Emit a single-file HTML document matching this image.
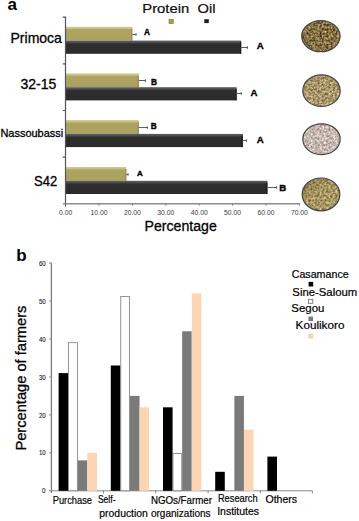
<!DOCTYPE html>
<html><head><meta charset="utf-8">
<style>
html,body{margin:0;padding:0;background:#fff;width:359px;height:521px;overflow:hidden}
svg{display:block}
text{font-family:"Liberation Sans",sans-serif}
.th{stroke:#000;stroke-width:0.3px}
.th2{stroke:#000;stroke-width:0.2px}
</style></head>
<body>
<svg width="359" height="521" viewBox="0 0 359 521">
<!-- ===== panel a ===== -->
<text x="7.6" y="9.8" font-size="17" font-weight="bold" fill="#000">a</text>
<!-- legend -->
<text x="142.31" y="13" font-size="13.5" fill="#111" textLength="46.89" lengthAdjust="spacingAndGlyphs" class="th2">Protein</text>
<text x="197.61" y="13" font-size="13.5" fill="#111" textLength="17.99" lengthAdjust="spacingAndGlyphs" class="th2">Oil</text>
<rect x="169" y="19.3" width="4.3" height="4.3" fill="#a89f4c" stroke="#7c7432" stroke-width="0.6"/>
<rect x="204.3" y="19.2" width="4.5" height="3.9" fill="#1e1e1e"/>
<!-- category labels -->
<text x="10.50" y="43" font-size="15" fill="#000" textLength="51.40" lengthAdjust="spacingAndGlyphs" class="th">Primoca</text>
<text x="20.40" y="89" font-size="14" fill="#000" textLength="35.90" lengthAdjust="spacingAndGlyphs" class="th">32-15</text>
<text x="0.41" y="136.6" font-size="11.2" fill="#000" textLength="62.80" lengthAdjust="spacingAndGlyphs" class="th">Nassoubassi</text>
<text x="34.03" y="185.9" font-size="15" fill="#000" textLength="23.17" lengthAdjust="spacingAndGlyphs" class="th">S42</text>
<!-- bars: protein -->
<defs>
<linearGradient id="og" x1="0" y1="0" x2="0" y2="1">
<stop offset="0" stop-color="#5e5e62"/><stop offset="0.16" stop-color="#4a4a4e"/><stop offset="0.24" stop-color="#2e2e2e"/><stop offset="1" stop-color="#2b2b2b"/>
</linearGradient>
<linearGradient id="pg" x1="0" y1="0" x2="0" y2="1">
<stop offset="0" stop-color="#d2ca94"/><stop offset="0.15" stop-color="#c4bb80"/><stop offset="0.2" stop-color="#aea462"/><stop offset="0.92" stop-color="#aba160"/><stop offset="1" stop-color="#a0975a"/>
</linearGradient>
</defs>
<rect x="66" y="26.8" width="66.3" height="13.8" fill="url(#pg)"/>
<rect x="131.2" y="28.8" width="1.1" height="11.8" fill="#958d55"/>
<rect x="66" y="73.4" width="72.8" height="13.8" fill="url(#pg)"/>
<rect x="137.7" y="75.4" width="1.1" height="11.8" fill="#958d55"/>
<rect x="66" y="120.1" width="72.8" height="13.8" fill="url(#pg)"/>
<rect x="137.7" y="122.1" width="1.1" height="11.8" fill="#958d55"/>
<rect x="66" y="167.0" width="60.3" height="13.8" fill="url(#pg)"/>
<rect x="125.2" y="169.0" width="1.1" height="11.8" fill="#958d55"/>
<rect x="66" y="40.6" width="175.2" height="13.2" fill="url(#og)"/>
<rect x="240.1" y="42.1" width="1.1" height="11.7" fill="#1c1c1c"/>
<rect x="66" y="87.2" width="170.6" height="13.2" fill="url(#og)"/>
<rect x="235.5" y="88.7" width="1.1" height="11.7" fill="#1c1c1c"/>
<rect x="66" y="133.9" width="176.8" height="13.2" fill="url(#og)"/>
<rect x="241.7" y="135.4" width="1.1" height="11.7" fill="#1c1c1c"/>
<rect x="66" y="180.8" width="201.4" height="13.2" fill="url(#og)"/>
<rect x="266.3" y="182.3" width="1.1" height="11.7" fill="#1c1c1c"/>
<g fill="#5c5c5c">
<rect x="132.3" y="34" width="4.1" height="1"/><rect x="135.5" y="33.2" width="1" height="2.6"/>
<rect x="138.8" y="80" width="7.1" height="1"/><rect x="145.0" y="79.2" width="1" height="2.6"/>
<rect x="138.8" y="127" width="8.9" height="1"/><rect x="146.8" y="126.2" width="1" height="2.6"/>
<rect x="126.3" y="174" width="2.1" height="1"/><rect x="127.5" y="173.2" width="1" height="2.6"/>
<rect x="241.2" y="47" width="6.7" height="1"/><rect x="247.0" y="46.2" width="1" height="2.6"/>
<rect x="236.6" y="93" width="5.0" height="1"/><rect x="240.7" y="92.2" width="1" height="2.6"/>
<rect x="242.8" y="140" width="4.0" height="1"/><rect x="245.9" y="139.2" width="1" height="2.6"/>
<rect x="267.4" y="187" width="9.6" height="1"/><rect x="276.1" y="186.2" width="1" height="2.6"/>
</g>
<g font-weight="bold" fill="#000" stroke="#000" stroke-width="0.35">
<text x="144" y="34.6" font-size="8.3">A</text>
<text x="256.7" y="49.3" font-size="9.7">A</text>
<text x="151.1" y="85" font-size="8.3">B</text>
<text x="250.6" y="96.3" font-size="9.7">A</text>
<text x="150.7" y="129.2" font-size="8.3">B</text>
<text x="256.7" y="143.4" font-size="9.7">A</text>
<text x="137.1" y="176.3" font-size="8.0">A</text>
<text x="279.2" y="190.6" font-size="9.7">B</text>
</g>
<!-- axes -->
<g stroke="#555" stroke-width="1.2" fill="none">
<path d="M65.5 16.6V206.4"/>
<path d="M62.8 17.2H65.5M62.8 63.8H65.5M62.8 110.5H65.5M62.8 157.2H65.5"/>
</g>
<g stroke="#8c8c8c" stroke-width="1.5" fill="none">
<path d="M63 203.8H300"/>
</g>
<g stroke="#888" stroke-width="1" fill="none">
<path d="M99 204V205.8M132.4 204V205.8M165.8 204V205.8M199.2 204V205.8M232.6 204V205.8M266 204V205.8M299.4 204V205.8"/>
</g>
<g font-size="6.8" fill="#3a3a3a" text-anchor="middle">
<text x="65.6" y="215.1">0.00</text>
<text x="99" y="215.1">10.00</text>
<text x="132.4" y="215.1">20.00</text>
<text x="165.8" y="215.1">30.00</text>
<text x="199.2" y="215.1">40.00</text>
<text x="232.6" y="215.1">50.00</text>
<text x="266" y="215.1">60.00</text>
<text x="299.4" y="215.1">70.00</text>
</g>
<text x="144.59" y="231.3" font-size="15.4" fill="#000" textLength="72.21" lengthAdjust="spacingAndGlyphs" class="th">Percentage</text>
<!-- seed photos -->
<defs>
<filter id="t1" x="0" y="0" width="1" height="1" color-interpolation-filters="sRGB">
<feTurbulence type="fractalNoise" baseFrequency="0.45" numOctaves="3" seed="3" result="n"/>
<feColorMatrix in="n" type="matrix" values="0.95 0 0 0 0.043  0.9 0 0 0 -0.011  0.75 0 0 0 -0.100  0 0 0 0 1" result="c"/>
<feGaussianBlur in="c" stdDeviation="0.3" result="cb"/>
<feComposite in="cb" in2="SourceGraphic" operator="in"/>
</filter>
<filter id="t2" x="0" y="0" width="1" height="1" color-interpolation-filters="sRGB">
<feTurbulence type="fractalNoise" baseFrequency="0.45" numOctaves="3" seed="5" result="n"/>
<feColorMatrix in="n" type="matrix" values="0.8 0 0 0 0.259  0.78 0 0 0 0.198  0.68 0 0 0 0.076  0 0 0 0 1" result="c"/>
<feGaussianBlur in="c" stdDeviation="0.3" result="cb"/>
<feComposite in="cb" in2="SourceGraphic" operator="in"/>
</filter>
<filter id="t3" x="0" y="0" width="1" height="1" color-interpolation-filters="sRGB">
<feTurbulence type="fractalNoise" baseFrequency="0.45" numOctaves="3" seed="7" result="n"/>
<feColorMatrix in="n" type="matrix" values="0.65 0 0 0 0.451  0.7 0 0 0 0.375  0.75 0 0 0 0.323  0 0 0 0 1" result="c"/>
<feGaussianBlur in="c" stdDeviation="0.3" result="cb"/>
<feComposite in="cb" in2="SourceGraphic" operator="in"/>
</filter>
<filter id="t4" x="0" y="0" width="1" height="1" color-interpolation-filters="sRGB">
<feTurbulence type="fractalNoise" baseFrequency="0.45" numOctaves="3" seed="9" result="n"/>
<feColorMatrix in="n" type="matrix" values="0.7 0 0 0 0.301  0.7 0 0 0 0.242  0.6 0 0 0 0.092  0 0 0 0 1" result="c"/>
<feGaussianBlur in="c" stdDeviation="0.3" result="cb"/>
<feComposite in="cb" in2="SourceGraphic" operator="in"/>
</filter>
<linearGradient id="g4" x1="0" y1="0" x2="1" y2="1">
<stop offset="0" stop-color="#5a4620" stop-opacity="0.35"/><stop offset="0.5" stop-color="#5a4620" stop-opacity="0"/>
</linearGradient>
</defs>
<ellipse cx="320.9" cy="36.2" rx="19.2" ry="15.5" fill="#000" filter="url(#t1)"/>
<ellipse cx="321.5" cy="90.7" rx="18.7" ry="15.8" fill="#000" filter="url(#t2)"/>
<ellipse cx="321.5" cy="139.2" rx="18.7" ry="15.4" fill="#000" filter="url(#t3)"/>
<ellipse cx="321" cy="194.4" rx="18.8" ry="16.4" fill="#000" filter="url(#t4)"/>
<ellipse cx="321" cy="194.4" rx="18.8" ry="16.4" fill="url(#g4)"/>
<g stroke="#444" stroke-width="1.2" fill="none">
<ellipse cx="320.9" cy="36.2" rx="19.2" ry="15.5"/>
<ellipse cx="321.5" cy="90.7" rx="18.7" ry="15.8"/>
<ellipse cx="321.5" cy="139.2" rx="18.7" ry="15.4"/>
<ellipse cx="321" cy="194.4" rx="18.8" ry="16.4"/>
</g>

<!-- ===== panel b ===== -->
<text x="16.3" y="261" font-size="17" font-weight="bold" fill="#000">b</text>
<!-- y axis -->
<g stroke="#7c7c7c" stroke-width="1.3" fill="none">
<path d="M51.4 262.7V493"/>
</g>
<g stroke="#888" stroke-width="1" fill="none">
<path d="M49 263H51.3M49 301H51.3M49 339H51.3M49 377H51.3M49 414.9H51.3M49 452.8H51.3M49 490.8H51.3"/>
<path d="M51.3 490.8H312.4"/>
<path d="M103.5 490.8V493.5M155.8 490.8V493.5M208.1 490.8V493.5M260.4 490.8V493.5M312.4 490.8V493.5"/>
</g>
<g font-size="7" fill="#1a1a1a" stroke="#1a1a1a" stroke-width="0.12">
<text x="38.9" y="265.6" textLength="6.7" lengthAdjust="spacingAndGlyphs">60</text>
<text x="38.9" y="303.6" textLength="6.7" lengthAdjust="spacingAndGlyphs">50</text>
<text x="38.9" y="341.6" textLength="6.7" lengthAdjust="spacingAndGlyphs">40</text>
<text x="38.9" y="379.6" textLength="6.7" lengthAdjust="spacingAndGlyphs">30</text>
<text x="38.9" y="417.5" textLength="6.7" lengthAdjust="spacingAndGlyphs">20</text>
<text x="38.9" y="455.4" textLength="6.7" lengthAdjust="spacingAndGlyphs">10</text>
<text x="42.1" y="493.4" textLength="3.5" lengthAdjust="spacingAndGlyphs">0</text>
</g>
<text transform="translate(25.5 450.6) rotate(-90)" font-size="15" fill="#000" textLength="145" lengthAdjust="spacingAndGlyphs" class="th">Percentage of farmers</text>
<!-- bars b -->
<g>
<rect x="58.60" y="373.1" width="9.58" height="117.7" fill="#000"/>
<rect x="68.58" y="342.7" width="8.78" height="148.1" fill="#fff" stroke="#7a7a7a" stroke-width="0.8"/>
<rect x="77.76" y="460.4" width="9.58" height="30.4" fill="#7a7a7a"/>
<rect x="87.34" y="452.8" width="9.58" height="38.0" fill="#fcd5b5"/>
<rect x="110.80" y="365.5" width="9.58" height="125.3" fill="#000"/>
<rect x="120.78" y="296.4" width="8.78" height="194.4" fill="#fff" stroke="#7a7a7a" stroke-width="0.8"/>
<rect x="129.96" y="395.9" width="9.58" height="94.9" fill="#7a7a7a"/>
<rect x="139.54" y="407.3" width="9.58" height="83.5" fill="#fcd5b5"/>
<rect x="163.00" y="407.3" width="9.58" height="83.5" fill="#000"/>
<rect x="172.98" y="453.6" width="8.78" height="37.2" fill="#fff" stroke="#7a7a7a" stroke-width="0.8"/>
<rect x="182.16" y="331.3" width="9.58" height="159.5" fill="#7a7a7a"/>
<rect x="191.74" y="293.4" width="9.58" height="197.4" fill="#fcd5b5"/>
<rect x="215.20" y="471.8" width="9.58" height="19.0" fill="#000"/>
<rect x="234.36" y="395.9" width="9.58" height="94.9" fill="#7a7a7a"/>
<rect x="243.94" y="429.7" width="9.58" height="61.1" fill="#fcd5b5"/>
<rect x="267.40" y="456.6" width="9.58" height="34.2" fill="#000"/>
</g>
<!-- legend b -->
<g font-size="11" fill="#000">
<text x="291.70" y="278.4" textLength="57.00" lengthAdjust="spacingAndGlyphs" class="th2">Casamance</text>
<text x="292.39" y="295.5" textLength="64.80" lengthAdjust="spacingAndGlyphs" class="th2">Sine-Saloum</text>
<text x="291.37" y="312" textLength="33.03" lengthAdjust="spacingAndGlyphs" class="th2">Segou</text>
<text x="295.60" y="328.9" textLength="48.80" lengthAdjust="spacingAndGlyphs" class="th2">Koulikoro</text>
</g>
<rect x="308.6" y="281.9" width="4.6" height="4.6" fill="#000"/>
<rect x="308.5" y="299.4" width="4.3" height="3.9" fill="#fff" stroke="#777" stroke-width="0.9"/>
<rect x="308.4" y="316.6" width="4.6" height="4.5" fill="#7a7a7a"/>
<rect x="308.4" y="334" width="4.6" height="4.6" fill="#fcd0ad"/>
<!-- x labels b -->
<g font-size="11" fill="#000">
<text x="52.69" y="503.6" textLength="39.32" lengthAdjust="spacingAndGlyphs" class="th2">Purchase</text>
<text x="97.91" y="502.6" textLength="17.60" lengthAdjust="spacingAndGlyphs" class="th2">Self-</text>
<text x="99.32" y="516.5" textLength="48.58" lengthAdjust="spacingAndGlyphs" class="th2">production</text>
<text x="150.90" y="503.9" textLength="61.01" lengthAdjust="spacingAndGlyphs" class="th2">NGOs/Farmer</text>
<text x="150.90" y="516.7" textLength="59.70" lengthAdjust="spacingAndGlyphs" class="th2">organizations</text>
<text x="217.92" y="502.3" textLength="39.74" lengthAdjust="spacingAndGlyphs" class="th2">Research</text>
<text x="217.18" y="515.4" textLength="41.90" lengthAdjust="spacingAndGlyphs" class="th2">Institutes</text>
<text x="265.50" y="502.5" textLength="31.62" lengthAdjust="spacingAndGlyphs" class="th2">Others</text>
</g>
</svg>
</body></html>
